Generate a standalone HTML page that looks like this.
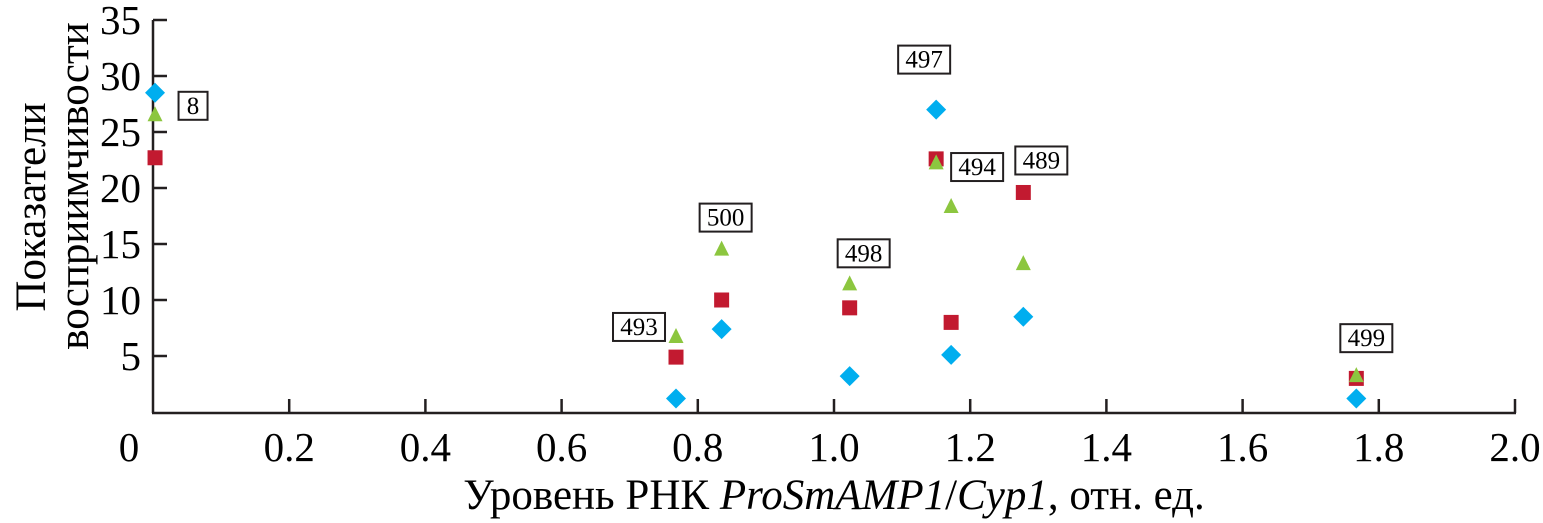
<!DOCTYPE html>
<html><head><meta charset="utf-8"><style>
body{margin:0;background:#fff;}
svg{display:block;font-family:"Liberation Serif",serif;}
</style></head><body>
<svg id="c" width="1543" height="523" viewBox="0 0 1543 523">
<g id="axes"></g><g id="marks"></g>
<text transform="translate(45,207) rotate(-90)" text-anchor="middle" font-size="43">Показатели</text>
<text transform="translate(88,186) rotate(-90)" text-anchor="middle" font-size="43">восприимчивости</text>
<text x="834" y="509" text-anchor="middle" font-size="43">Уровень РНК <tspan font-style="italic">ProSmAMP1</tspan>/<tspan font-style="italic">Cyp1</tspan>, отн. ед.</text>
</svg>
<script>
const lines=["8","493","500","498","497","494","489","499"];
const xVals=[0.003,0.768,0.835,1.023,1.15,1.172,1.278,1.767];
const blueVals=[28.5,1.2,7.4,3.2,27.0,5.1,8.5,1.2];
const redVals=[22.7,4.9,10.0,9.3,22.6,8.0,19.6,3.0];
const greenVals=[26.5,6.7,14.5,11.4,22.2,18.3,13.2,3.2];
const xTicks=[0,0.2,0.4,0.6,0.8,1.0,1.2,1.4,1.6,1.8,2.0];
const xTickLabels=["0","0.2","0.4","0.6","0.8","1.0","1.2","1.4","1.6","1.8","2.0"];
const yTicks=[5,10,15,20,25,30,35];
const labelOffsets=[[38,13],[-37,-10],[4,-32],[14,-31],[-12,-50],[26,-40],[18,-32],[10,-38]];
const NS="http://www.w3.org/2000/svg";
const X=v=>153+v*681;
const Y=v=>412-v*11.2;
function mk(tag,attrs,parent){const e=document.createElementNS(NS,tag);for(const k in attrs)e.setAttribute(k,attrs[k]);parent.appendChild(e);return e;}
const ax=document.getElementById('axes'),mg=document.getElementById('marks');
let l=mk('line',{x1:153,y1:20,x2:153,y2:413,stroke:'#231f20','stroke-width':2.5},ax);


l=mk('line',{x1:152,y1:413,x2:1516,y2:413,stroke:'#231f20','stroke-width':2.5},ax);


yTicks.forEach(v=>{
 const t=mk('line',{x1:153,y1:Y(v),x2:167,y2:Y(v),stroke:'#231f20','stroke-width':2.5},ax);
 
 
 const tx=mk('text',{x:141,y:Y(v)+14,'text-anchor':'end','font-size':41},ax);
 tx.textContent=v;
 
 
});
xTicks.forEach((v,i)=>{
 if(v>0){const t=mk('line',{x1:X(v),y1:413,x2:X(v),y2:399,stroke:'#231f20','stroke-width':2.5},ax);
 
 }
 const tx=mk('text',{x:v===0?129:X(v),y:461,'text-anchor':'middle','font-size':41},ax);
 tx.textContent=xTickLabels[i];
 
 
});
xVals.forEach((xv,i)=>{
 const cx=X(xv);
 let s=mk('rect',{x:cx-7.5,y:Y(redVals[i])-7.5,width:15,height:15,fill:'#c21a30'},mg);
 
 
 let cy=Y(greenVals[i]);
 s=mk('polygon',{points:`${cx},${cy-9} ${cx+7.5},${cy+6} ${cx-7.5},${cy+6}`,fill:'#8cc63f'},mg);
 
 
 cy=Y(blueVals[i]);
 s=mk('polygon',{points:`${cx},${cy-10} ${cx+10},${cy} ${cx},${cy+10} ${cx-10},${cy}`,fill:'#00aeef'},mg);
 
 
 const topY=Math.min(Y(blueVals[i]),Y(redVals[i]),Y(greenVals[i]));
 const w=lines[i].length>1?52:29;
 const bx=cx+labelOffsets[i][0]-w/2, by=topY+labelOffsets[i][1]-14;
 const g=mk('g',{},mg);
 
 
 mk('rect',{x:bx,y:by,width:w,height:28,fill:'#fff',stroke:'#231f20','stroke-width':2},g);
 const t=mk('text',{x:bx+w/2,y:by+22,'text-anchor':'middle','font-size':25},g);
 t.textContent=lines[i];
});
</script>
</body></html>
